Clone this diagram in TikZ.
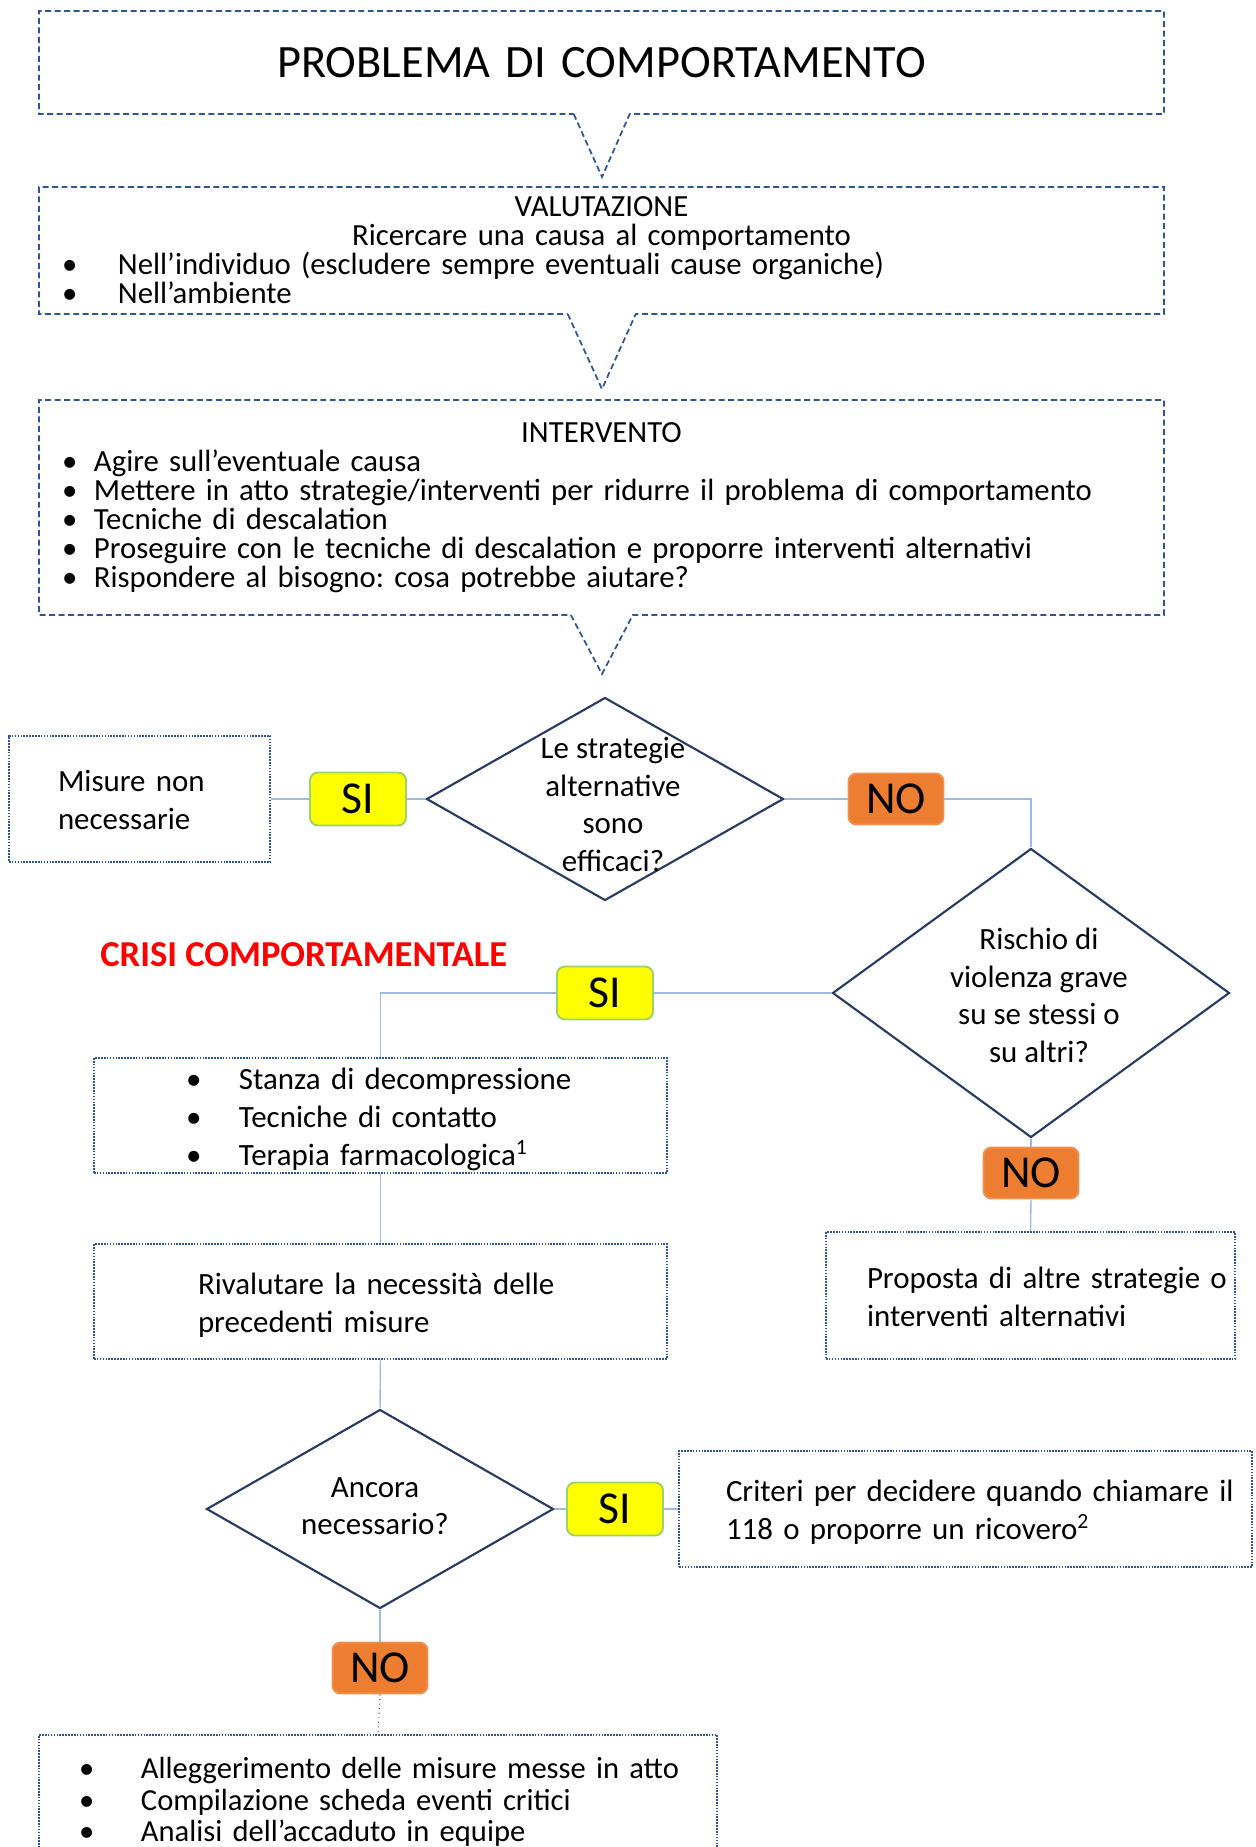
\documentclass[tikz,border=0pt]{standalone}
\usepackage{fontspec}
\setmainfont{Carlito}
\usetikzlibrary{shapes.geometric, shapes.callouts}
\definecolor{boxblue}{RGB}{47,85,151}
\definecolor{rhombus}{RGB}{38,58,98}
\definecolor{wire}{RGB}{160,185,225}
\definecolor{siyellow}{RGB}{255,255,0}
\definecolor{sigreen}{RGB}{155,210,105}
\definecolor{noorange}{RGB}{237,125,49}
\definecolor{crisisred}{RGB}{255,0,0}
\newlength\pxu
\setlength\pxu{0.02cm}
\frenchspacing
\newcommand\itm[1]{\makebox[#1][l]{\textbullet}}
\newcommand\rows[1]{\raisebox{-4\pxu}[\height][\depth]{\begin{tabular}{@{}l@{}}#1\end{tabular}}}
\newcommand\ztext[3][0pt]{\makebox[0pt]{\hspace*{#1}\hspace*{#1}\raisebox{#2}{\smash{\begin{tabular}{@{}c@{}}#3\end{tabular}}}}}

\begin{document}
\begin{tikzpicture}[x=\pxu, y=-\pxu,
    callbox/.style={rectangle callout, draw=boxblue, line width=1pt,
      dash pattern=on 3.4pt off 2pt, minimum width=1125\pxu, inner ysep=0pt,
      inner xsep=23\pxu, text width=1079\pxu, align=left,
      font=\fontsize{17.5pt}{16.5pt}\selectfont},
    note/.style={draw=boxblue, line width=0.9pt, dash pattern=on 0.9pt off 0.75pt,
      inner ysep=0pt, align=left, font=\fontsize{17.6pt}{21.6pt}\selectfont},
    decision/.style={diamond, draw=rhombus, line width=1.2pt, inner sep=0pt,
      font=\fontsize{17.6pt}{21.4pt}\selectfont},
    yestag/.style={draw=sigreen, fill=siyellow, line width=1.1pt, rounded corners=4.5pt,
      minimum width=96\pxu, minimum height=53\pxu, inner sep=0pt,
      font=\fontsize{26pt}{26pt}\selectfont},
    notag/.style={draw=noorange!85!white, fill=noorange, line width=1.1pt, rounded corners=4.5pt,
      minimum width=95\pxu, minimum height=51\pxu, inner sep=0pt,
      font=\fontsize{26pt}{26pt}\selectfont},
    wire/.style={draw=wire, line width=0.8pt},
  ]
    \useasboundingbox (0,0) rectangle (1256,1847);

    \node[callbox, minimum height=103\pxu, align=center, callout pointer width=56\pxu,
      callout absolute pointer={(602,177)}, font=\fontsize{26.4pt}{26.4pt}\selectfont]
      (problema) at (601.5,62.5) {PROBLEMA DI COMPORTAMENTO};
    \node[callbox, minimum height=127\pxu, callout pointer width=68\pxu,
      callout absolute pointer={(602,389)}] (valutazione) at (601.5,250.5)
      {\centering VALUTAZIONE\\Ricercare una causa al comportamento\par
       \raggedright\itm{56\pxu}Nell’individuo (escludere sempre eventuali cause organiche)\\
       \itm{56\pxu}Nell’ambiente};
    \node[callbox, minimum height=215\pxu, callout pointer width=62\pxu,
      callout absolute pointer={(602,674)}] (intervento) at (601.5,507.5)
      {\centering INTERVENTO\par
       \raggedright\itm{32\pxu}Agire sull’eventuale causa\\
       \itm{32\pxu}Mettere in atto strategie/interventi per ridurre il problema di comportamento\\
       \itm{32\pxu}Tecniche di descalation\\
       \itm{32\pxu}Proseguire con le tecniche di descalation e proporre interventi alternativi\\
       \itm{32\pxu}Rispondere al bisogno: cosa potrebbe aiutare?};

    \node[decision, minimum width=357\pxu, minimum height=203\pxu] (efficaci) at (605,799)
      {\ztext[8\pxu]{-32\pxu}{Le strategie\\alternative\\sono\\efficaci?}};
    \node[yestag] (si1) at (358,799) {SI};
    \node[note, minimum width=261\pxu, minimum height=126\pxu, inner xsep=49\pxu,
      text width=163\pxu] (misure) at (139.5,799) {\rows{Misure non\\necessarie}};
    \node[notag] (no1) at (896,799) {NO};

    \node[decision, minimum width=397\pxu, minimum height=289\pxu] (rischio) at (1031,993)
      {\ztext[8\pxu]{-26\pxu}{Rischio di\\violenza grave\\su se stessi o\\su altri?}};
    \node[font=\fontsize{20.8pt}{20.8pt}\selectfont\bfseries, text=crisisred, anchor=west,
      inner sep=0pt] (crisi) at (100,955) {CRISI COMPORTAMENTALE};
    \node[yestag] (si2) at (605,993) {SI};
    \node[note, minimum width=573\pxu, minimum height=115\pxu, inner xsep=92\pxu,
      text width=389\pxu] (misurecrisi) at (380.5,1115.5)
      {\rows{\itm{53\pxu}Stanza di decompressione\\
             \itm{53\pxu}Tecniche di contatto\\
             \itm{53\pxu}Terapia farmacologica\textsuperscript{1}}};
    \node[note, minimum width=573\pxu, minimum height=115\pxu, inner xsep=104\pxu,
      text width=365\pxu] (rivalutare) at (380.5,1301.5)
      {\rows{Rivalutare la necessità delle\\precedenti misure}};

    \node[notag] (no2) at (1031,1173) {NO};
    \node[note, minimum width=409\pxu, minimum height=127\pxu, inner xsep=41\pxu,
      text width=327\pxu] (proposta) at (1030.5,1295.5)
      {\rows{Proposta di altre strategie o\\interventi alternativi}};

    \node[decision, minimum width=347\pxu, minimum height=199\pxu] (ancora) at (380,1509)
      {\ztext[-5\pxu]{-14\pxu}{Ancora\\necessario?}};
    \node[yestag] (si3) at (615,1509) {SI};
    \node[note, minimum width=573\pxu, minimum height=116\pxu, inner xsep=47\pxu,
      text width=479\pxu] (criteri) at (965.5,1509)
      {\rows{Criteri per decidere quando chiamare il\\118 o proporre un ricovero\textsuperscript{2}}};
    \node[notag] (no3) at (380,1668) {NO};
    \node[note, anchor=north, minimum width=678\pxu, minimum height=130\pxu, inner xsep=40\pxu,
      text width=598\pxu, font=\fontsize{17.4pt}{17.9pt}\selectfont] (alleggerire) at (378,1734)
      {\rows{\itm{62\pxu}Alleggerimento delle misure messe in atto\\
             \itm{62\pxu}Compilazione scheda eventi critici\\
             \itm{62\pxu}Analisi dell’accaduto in equipe}};

    \draw[wire] (misure.east) -- (si1.west);
    \draw[wire] (si1.east) -- (efficaci.west);
    \draw[wire] (efficaci.east) -- (no1.west);
    \draw[wire] (no1.east) -| (rischio.north);
    \draw[wire] (rischio.west) -- (si2.east);
    \draw[wire] (si2.west) -| (misurecrisi.north);
    \draw[wire] (misurecrisi.south) -- (rivalutare.north);
    \draw[wire] (rivalutare.south) -- (ancora.north);
    \draw[wire] (rischio.south) -- (no2.north);
    \draw[wire] (no2.south) -- (proposta.north);
    \draw[wire] (ancora.east) -- (si3.west);
    \draw[wire] (si3.east) -- (criteri.west);
    \draw[wire] (ancora.south) -- (no3.north);
    \draw[boxblue, line width=0.6pt, dotted] (no3.south) -- (alleggerire.north);
  \end{tikzpicture}
\end{document}
